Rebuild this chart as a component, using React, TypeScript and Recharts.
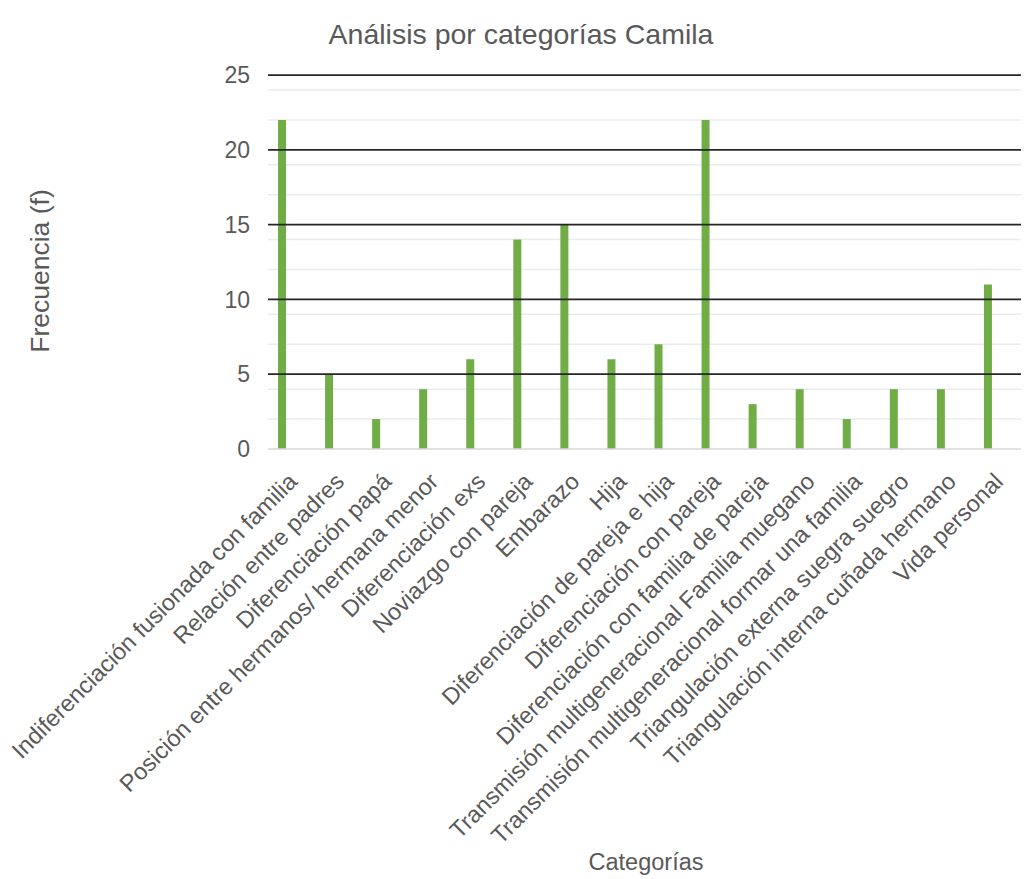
import React from 'react';
import {
  BarChart,
  Bar,
  XAxis,
  YAxis,
  CartesianGrid,
  ReferenceLine,
} from 'recharts';

const CATEGORIES = [
  'Indiferenciación fusionada con familia',
  'Relación entre padres',
  'Diferenciación papá',
  'Posición entre hermanos/ hermana menor',
  'Diferenciación exs',
  'Noviazgo con pareja',
  'Embarazo',
  'Hija',
  'Diferenciación de pareja e hija',
  'Diferenciación con pareja',
  'Diferenciación con familia de pareja',
  'Transmisión multigeneracional Familia muegano',
  'Transmisión multigeneracional formar una familia',
  'Triangulación externa suegra suegro',
  'Triangulación interna cuñada hermano',
  'Vida personal',
];

const FRECUENCIA = [22, 5, 2, 4, 6, 14, 15, 6, 7, 22, 3, 4, 2, 4, 4, 11];

const Y_TICKS = [0, 5, 10, 15, 20, 25];
const MAJOR_LINES = [5, 10, 15, 20, 25];
const MINOR_LINES = [
  1, 2, 3, 4, 6, 7, 8, 9, 11, 12, 13, 14, 16, 17, 18, 19, 21, 22, 23, 24,
];

const FONT = '"Liberation Sans", Arial, sans-serif';
const TEXT_COLOR = '#595959';

const data = CATEGORIES.map((name, i) => ({ name, frecuencia: FRECUENCIA[i] }));

function CategoryTick({ x = 0, y = 0, payload }: any) {
  if (!payload) return null;
  return (
    <g transform={`translate(${x + 7},${y + 26})`}>
      <text
        x={0}
        y={0}
        textAnchor="end"
        transform="rotate(-45)"
        fill={TEXT_COLOR}
        fontSize={23.5}
        fontFamily={FONT}
      >
        {payload.value}
      </text>
    </g>
  );
}

export default function App() {
  return (
    <div
      style={{
        position: 'absolute',
        left: 0,
        top: 0,
        width: 1031,
        height: 879,
        background: '#fff',
        fontFamily: FONT,
        color: TEXT_COLOR,
      }}
    >
      <div
        style={{
          position: 'absolute',
          left: 521,
          top: 34,
          transform: 'translate(-50%, -50%)',
          fontSize: 28.5,
          whiteSpace: 'nowrap',
        }}
      >
        Análisis por categorías Camila
      </div>
      <div
        style={{
          position: 'absolute',
          left: 40,
          top: 271,
          transform: 'translate(-50%, -50%) rotate(-90deg)',
          fontSize: 26.5,
          whiteSpace: 'nowrap',
        }}
      >
        Frecuencia (f)
      </div>
      <div
        style={{
          position: 'absolute',
          left: 646,
          top: 862,
          transform: 'translate(-50%, -50%)',
          fontSize: 23.5,
          whiteSpace: 'nowrap',
        }}
      >
        Categorías
      </div>
      <div style={{ position: 'absolute', left: 0, top: 0 }}>
        <BarChart
          width={1031}
          height={879}
          data={data}
          margin={{ top: 75, right: 10, bottom: 0, left: 0 }}
          barGap={11}
        >
          <CartesianGrid
            horizontal
            vertical={false}
            horizontalValues={MINOR_LINES}
            stroke="#ebebeb"
            strokeWidth={1.5}
          />
          <XAxis
            dataKey="name"
            interval={0}
            height={430}
            tick={<CategoryTick />}
            tickLine={false}
            axisLine={{ stroke: '#d9d9d9', strokeWidth: 1.5 }}
          />
          <YAxis
            width={268}
            domain={[0, 25]}
            ticks={Y_TICKS}
            tickLine={false}
            axisLine={false}
            tickMargin={12}
            tick={{ fill: TEXT_COLOR, fontSize: 23, fontFamily: FONT }}
          />
          {MAJOR_LINES.map((v) => (
            <ReferenceLine key={v} y={v} stroke="#262626" strokeWidth={1.75} />
          ))}
          <Bar
            dataKey="frecuencia"
            fill="#70ad47"
            barSize={8}
            isAnimationActive={false}
          />
          <Bar
            dataKey="serie2"
            fill="#ed7d31"
            barSize={8}
            legendType="none"
            isAnimationActive={false}
          />
        </BarChart>
      </div>
    </div>
  );
}
